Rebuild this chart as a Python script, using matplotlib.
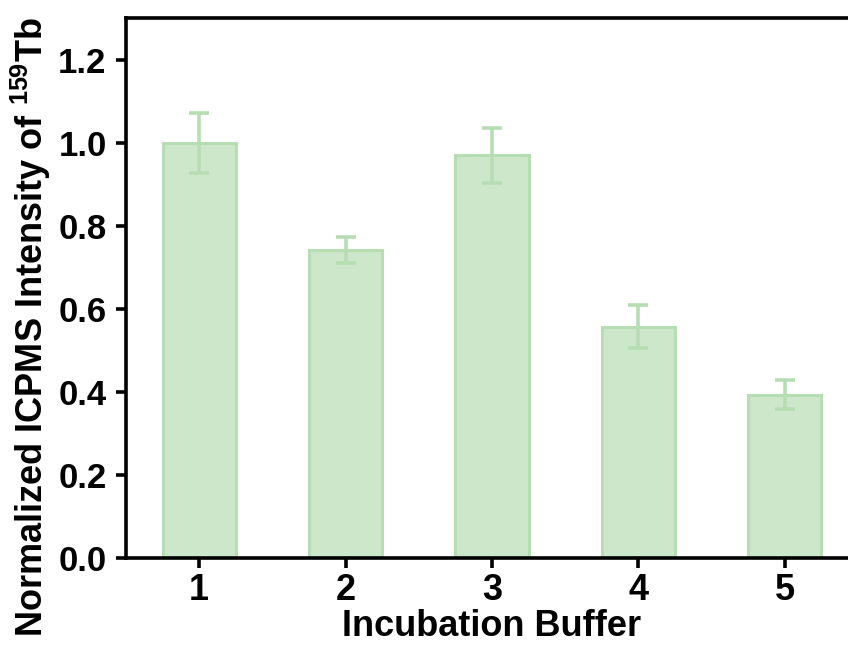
import numpy as np
import matplotlib.pyplot as plt

plt.rcParams['font.family'] = ['Liberation Sans', 'DejaVu Sans']
plt.rcParams['font.weight'] = 'bold'
plt.rcParams['mathtext.fontset'] = 'custom'
plt.rcParams['mathtext.bf'] = 'Liberation Sans:bold'
plt.rcParams['mathtext.rm'] = 'Liberation Sans:bold'

# Нормированная интенсивность и погрешности по буферам
buffers = [1, 2, 3, 4, 5]
intensity = [1.0, 0.742, 0.969, 0.557, 0.393]
errors = [0.072, 0.031, 0.066, 0.052, 0.035]
yticks = [0.0, 0.2, 0.4, 0.6, 0.8, 1.0, 1.2]

fill_color = '#cce7c9'
edge_color = '#b7deb3'

fig = plt.figure(figsize=(8.48, 6.5), dpi=100)
ax = fig.add_axes([126 / 848, 92 / 650, 732 / 848, 540 / 650])

ax.bar(buffers, intensity, width=0.5, color=fill_color, edgecolor=edge_color,
       linewidth=2.2, zorder=2)
ax.errorbar(buffers, intensity, yerr=errors, fmt='none', ecolor=edge_color,
            elinewidth=2.6, capsize=7, capthick=2.6, zorder=3)

ax.set_xlim(0.5, 5.5)
ax.set_ylim(0, 1.3)
ax.set_xticks(buffers)
ax.set_yticks(yticks)
ax.set_yticklabels([f'{v:.1f}' for v in yticks])

for side in ['left', 'bottom', 'top', 'right']:
    ax.spines[side].set_linewidth(2.6)

ax.tick_params(axis='both', direction='out', length=7, width=2.6)
ax.tick_params(axis='x', labelsize=26, pad=4)
ax.tick_params(axis='y', labelsize=25, pad=7)
for lbl in ax.get_xticklabels() + ax.get_yticklabels():
    lbl.set_fontweight('bold')

ax.set_xlabel('Incubation Buffer', fontsize=26, fontweight='bold')
ax.xaxis.set_label_coords(0.5, -0.095)
ax.set_ylabel('Normalized ICPMS Intensity of $\\mathbf{^{159}}$Tb',
              fontsize=26, fontweight='bold')
ax.yaxis.set_label_coords(-0.0997, 0.428)

plt.savefig('out.png', dpi=100)
